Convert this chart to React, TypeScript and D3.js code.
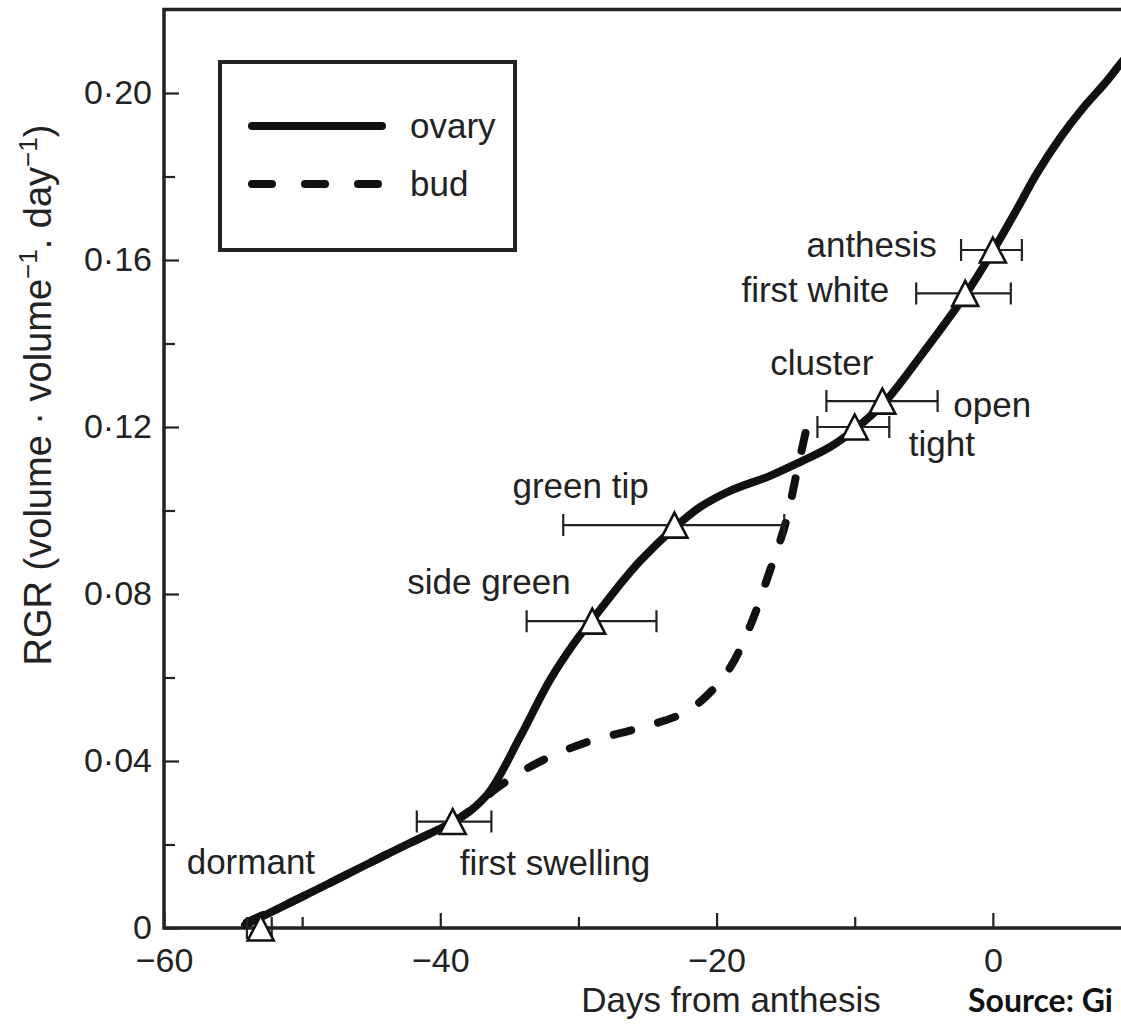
import React, { useEffect, useRef } from 'react';
import * as d3 from 'd3';

// ovary (solid) curve
const ovaryDay = [-54.14, -50.16, -46.54, -42.92, -39.08, -37.85, -36.4, -34.23, -32.06, -30.25, -28.95, -27.21, -25.54, -23.01, -21.2, -19.03, -16.13, -13.96, -11.79, -9.98, -7.95, -5.27, -1.94, 0.01, 1.75, 3.2, 4.86, 6.53, 8.26, 9.28, 10.0];
const ovaryRgr = [0.0007, 0.0072, 0.0132, 0.0192, 0.0254, 0.028, 0.0328, 0.0457, 0.0594, 0.0685, 0.074, 0.0814, 0.0879, 0.096, 0.1008, 0.1047, 0.1083, 0.1116, 0.1152, 0.1195, 0.1255, 0.1368, 0.1519, 0.1622, 0.1722, 0.1808, 0.1892, 0.1964, 0.2029, 0.2072, 0.2101];

// bud (dashed) curve
const budDay = [-54.0, -50.16, -46.54, -42.92, -39.08, -37.7, -35.9, -33.0, -29.4, -25.6, -22.0, -19.3, -17.6, -16.2, -15.0, -14.2, -13.3, -13.1];
const budRgr = [0.0014, 0.0072, 0.0132, 0.0192, 0.0254, 0.0285, 0.0335, 0.0395, 0.0445, 0.0479, 0.0522, 0.061, 0.0721, 0.085, 0.097, 0.109, 0.1224, 0.1248];

// developmental stages (triangles with horizontal error bars)
const stageName = ['dormant', 'first swelling', 'side green', 'green tip', 'tight cluster', 'open cluster', 'first white', 'anthesis'];
const stageDay = [-53.0, -39.1, -29.0, -23.05, -10.0, -8.0, -2.0, 0];
const stageRgr = [0.0, 0.0255, 0.0735, 0.0965, 0.12, 0.1262, 0.152, 0.1624];
const stageLow = [-54.0, -41.7, -33.75, -31.1, -12.7, -12.05, -5.55, -2.3];
const stageHigh = [-52.2, -36.3, -24.35, -15.1, -7.5, -4.0, 1.3, 2.1];

const xMajor = [-60, -40, -20, 0];
const xMinor = [-50, -30, -10, 10];
const yMajor = [0, 0.04, 0.08, 0.12, 0.16, 0.2];
const yMinor = [0.02, 0.06, 0.1, 0.14, 0.18];

// label placement relative to its stage marker (px)
const labels = [
  { text: 'dormant', stage: 0, dx: -74, dy: -54, anchor: 'start' },
  { text: 'first swelling', stage: 1, dx: 7, dy: 53, anchor: 'start' },
  { text: 'side green', stage: 2, dx: -185, dy: -27, anchor: 'start' },
  { text: 'green tip', stage: 3, dx: -162, dy: -27, anchor: 'start' },
  { text: 'tight', stage: 4, dx: 54, dy: 29, anchor: 'start' },
  { text: 'cluster', stage: 5, dx: -112, dy: -26, anchor: 'start' },
  { text: 'open', stage: 5, dx: 71, dy: 16, anchor: 'start' },
  { text: 'first white', stage: 6, dx: -76, dy: 9, anchor: 'end' },
  { text: 'anthesis', stage: 7, dx: -56, dy: 7, anchor: 'end' },
];

const W = 1121;
const H = 1034;
const FONT = '"Liberation Sans", Arial, Helvetica, sans-serif';

const triangle = {
  draw(ctx: any, size: number) {
    const w = size / 2;
    const h = size * 0.48;
    ctx.moveTo(0, -h);
    ctx.lineTo(w, h);
    ctx.lineTo(-w, h);
    ctx.closePath();
  },
};

export default function App() {
  const ref = useRef<SVGSVGElement>(null);

  useEffect(() => {
    if (!ref.current) return;
    const svg = d3.select(ref.current);
    svg.selectAll('*').remove();

    const x = d3.scaleLinear().domain([-60, 10]).range([164, 1131]);
    const y = d3.scaleLinear().domain([0, 0.22]).range([928, 9.5]);
    const [y0, yTop] = y.range();
    const x0 = x.range()[0];

    svg.append('rect').attr('width', W).attr('height', H).attr('fill', '#fff');

    // x axis ticks (inward)
    const xAxis = svg.append('g').attr('transform', `translate(0,${y0})`)
      .call(d3.axisBottom(x).tickValues(xMajor).tickSizeInner(-15).tickSizeOuter(0).tickPadding(20)
        .tickFormat(d => (+d === 0 ? '0' : d3.format('')(+d))));
    svg.append('g').attr('transform', `translate(0,${y0})`)
      .call(d3.axisBottom(x).tickValues(xMinor).tickSizeInner(-11).tickSizeOuter(0).tickFormat(() => ''));

    const yAxis = svg.append('g').attr('transform', `translate(${x0},0)`)
      .call(d3.axisLeft(y).tickValues(yMajor).tickSizeInner(-15).tickSizeOuter(0).tickPadding(12)
        .tickFormat(d => (+d === 0 ? '0' : d3.format('.2f')(+d).replace('.', '\u00b7'))));
    svg.append('g').attr('transform', `translate(${x0},0)`)
      .call(d3.axisLeft(y).tickValues(yMinor).tickSizeInner(-11).tickSizeOuter(0).tickFormat(() => ''));

    svg.selectAll('.domain').remove();
    svg.selectAll('.tick line').attr('stroke', '#222').attr('stroke-width', 2.2);
    [xAxis, yAxis].forEach(a => a.selectAll('text')
      .attr('font-family', FONT).attr('font-size', 34).attr('fill', '#222'));

    // frame
    svg.append('path')
      .attr('d', `M${W + 5},${yTop} H${x0} V${y0} H${W + 5}`)
      .attr('fill', 'none').attr('stroke', '#222').attr('stroke-width', 3.5);

    // axis titles
    svg.append('text')
      .attr('x', 731).attr('y', 1012)
      .attr('text-anchor', 'middle')
      .attr('font-family', FONT).attr('font-size', 35).attr('fill', '#222')
      .text('Days from anthesis');

    const yl = svg.append('text')
      .attr('transform', 'translate(51,395) rotate(-90)')
      .attr('text-anchor', 'middle')
      .attr('font-family', FONT).attr('font-size', 38).attr('fill', '#222');
    yl.append('tspan').text('RGR (volume \u00b7 volume');
    yl.append('tspan').attr('dy', -14).attr('font-size', 26).text('\u22121');
    yl.append('tspan').attr('dy', 14).text('. day');
    yl.append('tspan').attr('dy', -14).attr('font-size', 26).text('\u22121');
    yl.append('tspan').attr('dy', 14).text(')');

    svg.append('text')
      .attr('x', 968).attr('y', 1012)
      .attr('font-family', 'Lato, "Open Sans", sans-serif').attr('font-weight', 700)
      .attr('font-size', 32).attr('fill', '#111')
      .text('Source: Gi');

    // curves
    const line = d3.line<[number, number]>()
      .x(d => x(d[0])).y(d => y(d[1]))
      .curve(d3.curveCatmullRom.alpha(0.5));

    const bud = budDay.map((d, i) => [d, budRgr[i]] as [number, number]);
    const ovary = ovaryDay.map((d, i) => [d, ovaryRgr[i]] as [number, number]);

    svg.append('path').attr('d', line(bud))
      .attr('fill', 'none').attr('stroke', '#111').attr('stroke-width', 8)
      .attr('stroke-linecap', 'round').attr('stroke-dasharray', '18 28');
    svg.append('path').attr('d', line(ovary))
      .attr('fill', 'none').attr('stroke', '#111').attr('stroke-width', 8)
      .attr('stroke-linecap', 'round');

    // error bars
    const eb = svg.append('g').attr('stroke', '#222').attr('stroke-width', 2.2).attr('fill', 'none');
    stageName.forEach((_, i) => {
      const yy = y(stageRgr[i]);
      const a = x(stageLow[i]);
      const b = x(stageHigh[i]);
      eb.append('path').attr('d', `M${a},${yy} H${b} M${a},${yy - 11} V${yy + 11} M${b},${yy - 11} V${yy + 11}`);
    });

    // triangles
    const sym = d3.symbol().type(triangle as any).size(26);
    svg.append('g').selectAll('path')
      .data(stageName.map((_, i) => i))
      .join('path')
      .attr('transform', i => `translate(${x(stageDay[i])},${y(stageRgr[i])})`)
      .attr('d', sym() as string)
      .attr('fill', '#fff').attr('stroke', '#111').attr('stroke-width', 2.6);

    // stage labels
    svg.append('g').selectAll('text')
      .data(labels)
      .join('text')
      .attr('x', d => x(stageDay[d.stage]) + d.dx)
      .attr('y', d => y(stageRgr[d.stage]) + d.dy)
      .attr('text-anchor', d => d.anchor)
      .attr('font-family', FONT).attr('font-size', 35).attr('fill', '#222')
      .text(d => d.text);

    // legend
    const lg = svg.append('g');
    lg.append('rect').attr('x', 220).attr('y', 62).attr('width', 295).attr('height', 188)
      .attr('fill', '#fff').attr('stroke', '#222').attr('stroke-width', 4);
    const items = [
      { name: 'ovary', dash: null as string | null },
      { name: 'bud', dash: '20 33' },
    ];
    items.forEach((it, i) => {
      const ly = 126 + i * 58;
      lg.append('line').attr('x1', 252).attr('x2', 382).attr('y1', ly).attr('y2', ly)
        .attr('stroke', '#111').attr('stroke-width', 8).attr('stroke-linecap', 'round')
        .attr('stroke-dasharray', it.dash);
      lg.append('text').attr('x', 410).attr('y', ly + 12)
        .attr('font-family', FONT).attr('font-size', 35).attr('fill', '#222')
        .text(it.name);
    });
  }, []);

  return (
    <svg
      ref={ref}
      width={W}
      height={H}
      style={{ position: 'absolute', left: 0, top: 0, display: 'block' }}
    />
  );
}
